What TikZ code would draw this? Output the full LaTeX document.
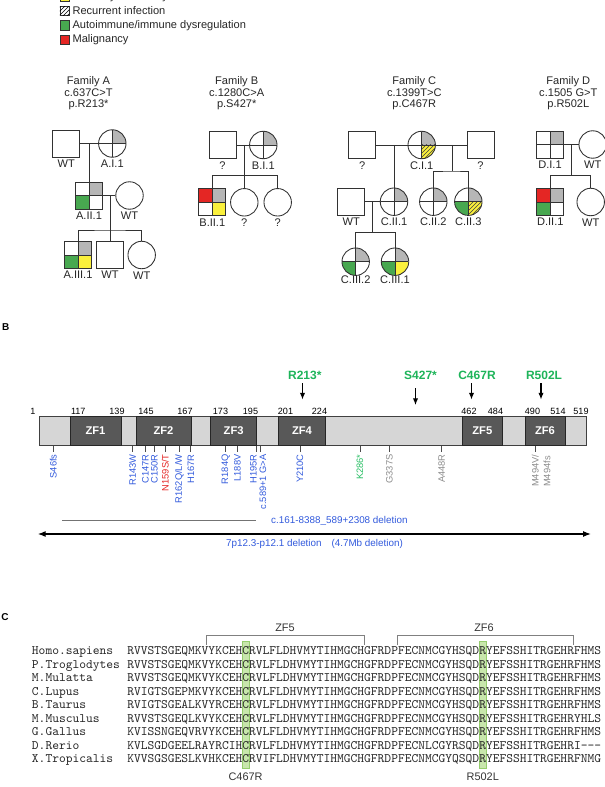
\documentclass[tikz,border=0pt]{standalone}
\usepackage{fontspec}
\setmainfont{Liberation Sans}
\usetikzlibrary{arrows.meta,patterns,calc,backgrounds}

\definecolor{affgray}{RGB}{182,182,182}
\definecolor{adyel}{RGB}{250,240,60}
\definecolor{aigreen}{RGB}{72,168,80}
\definecolor{malred}{RGB}{228,38,36}
\definecolor{mutblue}{RGB}{50,90,220}
\definecolor{mutgreen}{RGB}{40,190,100}
\definecolor{hitgreen}{RGB}{30,180,90}
\definecolor{mutgray}{RGB}{140,140,140}
\definecolor{barlight}{RGB}{214,214,214}
\definecolor{bardark}{RGB}{88,88,88}
\definecolor{hlgreen}{RGB}{200,230,172}
\definecolor{hledge}{RGB}{150,205,110}
\definecolor{pline}{RGB}{50,50,50}

\newcommand{\ppb}{path picture bounding box}
\newcommand{\seqfont}{\ttfamily\fontsize{9.67}{11}\selectfont}

\begin{document}
\begin{tikzpicture}[x=0.75pt, y=-0.75pt, >={Latex[length=5pt,width=4pt]},
  person/.style={draw=pline, line width=0.65pt, fill=white, inner sep=0pt},
  male/.style={person, rectangle, minimum size=20.2pt},
  female/.style={person, circle, minimum size=20.6pt},
  plab/.style={font=\fontsize{8.3}{9}\selectfont, inner sep=1.6pt, text=black!85},
  famtitle/.style={align=center, font=\fontsize{8.3}{8.6}\selectfont, text=black!85},
  q0/.style={fill=white}, qgr/.style={fill=affgray}, qgn/.style={fill=aigreen},
  qrd/.style={fill=malred}, qye/.style={fill=adyel},
  qyh/.style={fill=adyel, postaction={pattern=north east lines, pattern color=black!75}},
  quads/.style n args={4}{path picture={
      \fill[#1] (\ppb.center) rectangle (\ppb.north west);
      \fill[#2] (\ppb.center) rectangle (\ppb.north east);
      \fill[#3] (\ppb.center) rectangle (\ppb.south west);
      \fill[#4] (\ppb.center) rectangle (\ppb.south east);
      \draw[pline, line width=0.65pt] (\ppb.north) -- (\ppb.south) (\ppb.west) -- (\ppb.east);}},
  kin/.style={draw=pline, line width=0.65pt},
  legsq/.style={draw=black!80, line width=0.5pt, minimum size=7pt, inner sep=0pt},
  legtxt/.style={anchor=west, inner sep=2pt, font=\fontsize{8.3}{9}\selectfont, text=black!85},
  panlab/.style={font=\bfseries\fontsize{7.5}{8}\selectfont},
  numlab/.style={font=\fontsize{6.8}{7}\selectfont, inner sep=0pt},
  zflab/.style={text=white, font=\bfseries\fontsize{8.4}{9}\selectfont},
  mutlab/.style={rotate=90, anchor=east, inner sep=0.5pt, font=\fontsize{7}{8.8}\selectfont},
  hitlab/.style={text=hitgreen, font=\bfseries\fontsize{9}{10}\selectfont},
  tick/.style={draw=black!70, line width=0.6pt},
  deltext/.style={anchor=west, text=mutblue, font=\fontsize{7.4}{8}\selectfont},
  seqlab/.style={text=black!80, font=\fontsize{8.2}{9}\selectfont},
  seqrow/.style={anchor=base west, inner sep=0pt, font=\seqfont, text=black!85},
  hlbox/.style={fill=hlgreen, draw=hledge, line width=0.6pt},
  brk/.style={draw=black!50, line width=0.6pt}]
\useasboundingbox (0,0) rectangle (605,787);

% legend
\node[legsq, fill=adyel] (lg1) at (64.6,-3.5) {};
\node[legtxt] (lgt1) at (lg1.east) {Antibody deficiency};
\node[legsq, fill=white, postaction={pattern=north east lines}] (lg2) at (64.6,11) {};
\node[legtxt] (lgt2) at (lg2.east) {Recurrent infection};
\node[legsq, fill=aigreen] (lg3) at (64.6,25.3) {};
\node[legtxt] (lgt3) at (lg3.east) {Autoimmune/immune dysregulation};
\node[legsq, fill=malred] (lg4) at (64.6,40) {};
\node[legtxt] (lgt4) at (lg4.east) {Malignancy};

% Family A
\node[famtitle] (tA) at (88.5,93.3) {Family A\\c.637C>T\\p.R213*};
\node[male, label={[plab,name=A1fL]below:WT}] (A1f) at (66.2,143.5) {};
\node[female, quads={q0}{qgr}{q0}{q0}, label={[plab,name=A1mL]below:A.I.1}] (A1m) at (112.3,143.5) {};
\coordinate (Am1) at (89,143.5);
\node[male, quads={q0}{qgr}{qgn}{q0}, label={[plab,name=A2L]below:A.II.1}] (A2) at (89,195.5) {};
\node[female, label={[plab,name=A2wL]below:WT}] (A2w) at (129.5,195.5) {};
\coordinate (Am2) at (110,195.5);
\coordinate (As) at (110,230);
\node[male, quads={q0}{qgr}{qgn}{qye}, label={[plab,name=A3aL]below:A.III.1}] (A3a) at (78,255) {};
\node[male, label={[plab,name=A3bL]below:WT}] (A3b) at (110,255) {};
\node[female, label={[plab,name=A3cL]below:WT}] (A3c) at (141.7,255) {};
\draw[kin] (A1f) -- (A1m) (Am1) -- (A2) (A2) -- (A2w) (Am2) -- (A3b) (A3a) |- (As) -| (A3c);

% Family B
\node[famtitle] (tB) at (236.7,93.3) {Family B\\c.1280C>A\\p.S427*};
\node[male, label={[plab,name=B1fL]below:?}] (B1f) at (222.5,145) {};
\node[female, quads={q0}{qgr}{q0}{q0}, label={[plab,name=B1mL]below:B.I.1}] (B1m) at (263.3,145) {};
\coordinate (Bm1) at (244.3,145);
\coordinate (Bs) at (244.3,175.7);
\node[male, quads={qrd}{qgr}{q0}{qye}, label={[plab,name=B2aL]below:B.II.1}] (B2a) at (212.3,202.3) {};
\node[female, label={[plab,name=B2bL]below:?}] (B2b) at (244.3,202.3) {};
\node[female, label={[plab,name=B2cL]below:?}] (B2c) at (277.7,202.3) {};
\draw[kin] (B1f) -- (B1m) (Bm1) -- (B2b) (B2a) |- (Bs) -| (B2c);

% Family C
\node[famtitle] (tC) at (414.3,93.3) {Family C\\c.1399T>C\\p.C467R};
\node[male, label={[plab,name=C1fL]below:?}] (C1f) at (362.2,145) {};
\node[female, quads={q0}{qgr}{q0}{qyh}, label={[plab,name=C1mL]below:C.I.1}] (C1m) at (421.7,145) {};
\node[male, label={[plab,name=C1gL]below:?}] (C1g) at (480.5,145) {};
\coordinate (Cm1) at (394,145);
\coordinate (Cm2) at (452.3,145);
\coordinate (Cs1) at (452.3,171);
\node[male, label={[plab,name=C2wL]below:WT}] (C2w) at (351.3,201.7) {};
\node[female, quads={q0}{qgr}{q0}{q0}, label={[plab,name=C2aL]below:C.II.1}] (C2a) at (394,201.7) {};
\node[female, quads={q0}{qgr}{q0}{q0}, label={[plab,name=C2bL]below:C.II.2}] (C2b) at (433.3,201.7) {};
\node[female, quads={q0}{qgr}{qgn}{qyh}, label={[plab,name=C2cL]below:C.II.3}] (C2c) at (468.3,201.7) {};
\coordinate (Cm3) at (372.3,201.7);
\coordinate (Cs2) at (372.3,232.7);
\node[female, quads={q0}{qgr}{qgn}{q0}, label={[plab,name=C3aL,label distance=-1.5pt]below:C.III.2}] (C3a) at (355.7,261.7) {};
\node[female, quads={q0}{qgr}{qgn}{qye}, label={[plab,name=C3bL,label distance=-1.5pt]below:C.III.1}] (C3b) at (395,261.7) {};
\draw[kin] (C1f) -- (C1m) (C1m) -- (C1g) (Cm1) -- (C2a) (Cm2) -- (Cs1) (C2b) |- (Cs1) -| (C2c)
  (C2w) -- (C2a) (Cm3) -- (Cs2) (C3a) |- (Cs2) -| (C3b);

% Family D
\node[famtitle] (tD) at (568.3,93.3) {Family D\\c.1505 G>T\\p.R502L};
\node[male, quads={q0}{qgr}{q0}{q0}, label={[plab,name=D1L]below:D.I.1}] (D1) at (550,144.5) {};
\node[female, label={[plab,name=D1wL]below:WT}] (D1w) at (592.7,144.5) {};
\coordinate (Dm) at (571.7,144.5);
\coordinate (Ds) at (571.7,175.7);
\node[male, quads={qrd}{qgr}{qgn}{q0}, label={[plab,name=D2L]below:D.II.1}] (D2) at (550.3,202) {};
\node[female, label={[plab,name=D2wL]below:WT}] (D2w) at (590.7,202) {};
\draw[kin] (D1) -- (D1w) (Dm) -- (Ds) (D2) |- (Ds) -| (D2w);

% protein
\node[panlab] (pB) at (5.8,326.7) {B};
\draw[fill=barlight, draw=black!75, line width=0.7pt] (39.3,416) rectangle (586,445.7);
\foreach \a/\b/\n in {70/121/1, 136/191/2, 210.7/256.7/3, 278.3/325.7/4, 462.3/502.3/5, 525/565/6} {
  \draw[fill=bardark, draw=black!85, line width=0.7pt] (\a,416) rectangle (\b,445.7);
  \node[zflab] (zf\n) at ({(\a+\b)/2},430.9) {ZF\n};
}
\foreach \p/\v in {33/1, 78.3/117, 117/139, 146/145, 185/167, 220.5/173, 250.5/195, 285.5/201, 319.5/224,
  469/462, 495.5/484, 532.5/490, 558/514, 581/519}
  \node[numlab] (num\v) at (\p,411.5) {\v};

\foreach \t/\lx/\ax/\ya/\yb [count=\k] in {R213*/304.8/302.5/383.3/399.5, S427*/420.5/415.5/388.3/405,
  C467R/477/471.5/383.3/399.5, R502L/544/541/383.3/399.5} {
  \node[hitlab] (hit\k) at (\lx,375) {\t};
  \coordinate (hs\k) at (\ax,\ya);
  \coordinate (he\k) at (\ax,\yb);
  \draw[->, line width=0.8pt] (hs\k) -- (he\k);
}

\foreach \tx/\lx/\mt/\mc [count=\k] in {53.3/53.3/S46fs/mutblue, 132.7/132.7/R143W/mutblue,
  145.3/145.3/C147R/mutblue, 154.3/154.3/C150R/mutblue, 165.3/165.3/{N159S/T}/malred,
  179.3/179.3/{R162Q/L/W}/mutblue, 190.7/191/H167R/mutblue, 225.7/225.7/R184Q/mutblue,
  237.3/237.3/L188V/mutblue, 256.3/253.5/H195R/mutblue, 260/262.8/{c.589+1 G>A}/mutblue,
  300/300/Y210C/mutblue, 360/360/K286*/mutgreen, 389.3/389.3/G337S/mutgray, 441.7/441.7/A448R/mutgray} {
  \draw[tick] (\tx,445.7) -- (\tx,451.7);
  \node[mutlab, text=\mc] (mut\k) at (\lx,453.5) {\mt};
}
\draw[tick] (535,445.7) -- (535,451.7);
\node[mutlab, text=mutgray, align=left, anchor=north east, inner sep=0pt] (mut16) at (531.5,454.5) {M494V/\\M494fs};

\draw[draw=black!55, line width=0.7pt] (62.3,520.7) -- (256,520.7);
\node[deltext] (del1) at (266.5,520.7) {c.161-8388\_589+2308 deletion};
\draw[{Latex[length=6pt,width=4.5pt]}-{Latex[length=6pt,width=4.5pt]}, line width=0.9pt] (37.7,534) -- (591,534);
\node[deltext] (del2) at (221.5,544.3) {7p12.3-p12.1 deletion\quad(4.7Mb deletion)};

% alignment
\node[panlab] (pC) at (5,616.7) {C};
\draw[brk] (206,645) -- (206,635) -- (364,635) -- (364,645);
\node[seqlab] (zf5b) at (285,628) {ZF5};
\draw[brk] (397,645) -- (397,635) -- (573,635) -- (573,645);
\node[seqlab] (zf6b) at (484,628) {ZF6};

\foreach \sp/\sq [count=\i] in {
  Homo.sapiens/RVVSTSGEQMKVYKCEHCRVLFLDHVMYTIHMGCHGFRDPFECNMCGYHSQDRYEFSSHITRGEHRFHMS,
  P.Troglodytes/RVVSTSGEQMKVYKCEHCRVLFLDHVMYTIHMGCHGFRDPFECNMCGYHSQDRYEFSSHITRGEHRFHMS,
  M.Mulatta/RVVSTSGEQMKVYKCEHCRVLFLDHVMYTIHMGCHGFRDPFECNMCGYHSQDRYEFSSHITRGEHRFHMS,
  C.Lupus/RVIGTSGEPMKVYKCEHCRVLFLDHVMYTIHMGCHGFRDPFECNMCGYHSQDRYEFSSHITRGEHRFHMS,
  B.Taurus/RVIGTSGEALKVYRCEHCRVLFLDHVMYTIHMGCHGFRDPFECNMCGYHSQDRYEFSSHITRGEHRFHMS,
  M.Musculus/RVVSTSGEQLKVYKCEHCRVLFLDHVMYTIHMGCHGFRDPFECNMCGYHSQDRYEFSSHITRGEHRYHLS,
  G.Gallus/KVISSNGEQVRVYKCEHCRVLFLDHVMYTIHMGCHGFRDPFECNMCGYHSQDRYEFSSHITRGEHRFHMS,
  D.Rerio/{KVLSGDGEELRAYRCIHCRVLFLDHVMYTIHMGCHGFRDPFECNLCGYRSQDRYEFSSHITRGEHRI{-}{-}{-}},
  X.Tropicalis/KVVSGSGESLKVHKCEHCRVIFLDHVMYTIHMGCHGFRDPFECNMCGYQSQDRYEFSSHITRGEHRFNMG} {
  \node[seqrow] (sp\i) at (31.7,{654.5+13.5*(\i-1)}) {\sp};
  \node[seqrow] (sq\i) at (127,{654.5+13.5*(\i-1)}) {\sq};
}
% highlighted columns (70 residues per row)
\coordinate (hy1) at (0,641.7);
\coordinate (hy2) at (0,768);
\coordinate (hy3) at (0,777);
\coordinate (hC1) at ($(sq1.base west)!17/70!(sq1.base east)$);
\coordinate (hC2) at ($(sq1.base west)!18/70!(sq1.base east)$);
\coordinate (hR1) at ($(sq1.base west)!52/70!(sq1.base east)$);
\coordinate (hR2) at ($(sq1.base west)!53/70!(sq1.base east)$);
\coordinate (hCm) at ($(hC1)!0.5!(hC2)$);
\coordinate (hRm) at ($(hR1)!0.5!(hR2)$);
\begin{scope}[on background layer]
  \filldraw[hlbox] (hC1 |- hy1) rectangle (hC2 |- hy2);
  \filldraw[hlbox] (hR1 |- hy1) rectangle (hR2 |- hy2);
\end{scope}
\node[seqlab] (mC) at (hCm |- hy3) {C467R};
\node[seqlab] (mR) at (hRm |- hy3) {R502L};
\end{tikzpicture}
\end{document}
